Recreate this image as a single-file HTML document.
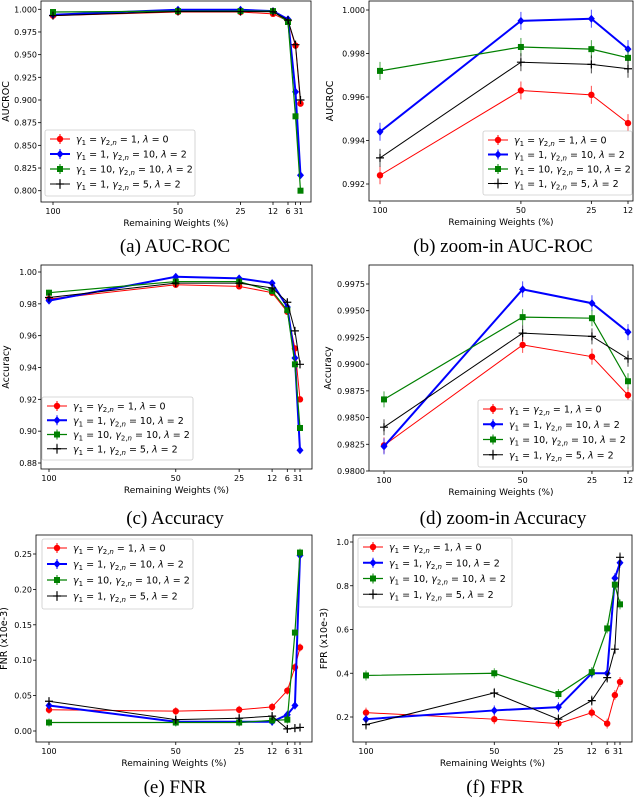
<!DOCTYPE html>
<html><head><meta charset="utf-8"><style>
body{margin:0;background:#fff;width:640px;height:800px;overflow:hidden}
svg{display:block}
text{font-family:"DejaVu Sans","Liberation Sans",sans-serif}
.cap{font-family:"Liberation Serif",serif;font-size:19px}
</style></head><body>
<svg id="fig" width="640" height="800" viewBox="0 0 640 800"></svg>
<script>
const xFull=[100,50,25,12,6,3,1];
const xZoom=[100,50,25,12];
const seriesNames=["γ1=γ2,n=1, λ=0","γ1=1, γ2,n=10, λ=2","γ1=10, γ2,n=10, λ=2","γ1=1, γ2,n=5, λ=2"];
// (a) AUC-ROC
const aRed=[.993,.997,.997,.995,.987,.960,.896];
const aBlue=[.994,.9995,.9995,.998,.989,.909,.817];
const aGreen=[.997,.998,.998,.998,.986,.882,.800];
const aBlack=[.993,.9976,.9975,.9973,.988,.961,.900];
const aTicks=[0.800,0.825,0.850,0.875,0.900,0.925,0.950,0.975,1.000];
// (b) zoom AUC-ROC
const bRed=[.9924,.9963,.9961,.9948];
const bBlue=[.9944,.9995,.9996,.9982];
const bGreen=[.9972,.9983,.9982,.9978];
const bBlack=[.9932,.9976,.9975,.9973];
const bTicks=[0.992,0.994,0.996,0.998,1.000];
// (c) Accuracy
const cRed=[.983,.992,.991,.987,.975,.952,.920];
const cBlue=[.982,.997,.996,.993,.978,.946,.888];
const cGreen=[.987,.994,.994,.988,.976,.942,.902];
const cBlack=[.984,.993,.993,.990,.981,.963,.942];
const cTicks=[0.88,0.90,0.92,0.94,0.96,0.98,1.00];
// (d) zoom Accuracy
const dRed=[.9824,.9918,.9907,.9871];
const dBlue=[.9823,.9970,.9957,.9930];
const dGreen=[.9867,.9944,.9943,.9884];
const dBlack=[.9841,.9929,.9926,.9905];
const dTicks=[0.9800,0.9825,0.9850,0.9875,0.9900,0.9925,0.9950,0.9975];
// (e) FNR
const eRed=[.030,.028,.030,.034,.057,.090,.118];
const eBlue=[.036,.013,.013,.013,.023,.036,.248];
const eGreen=[.012,.012,.012,.015,.016,.139,.252];
const eBlack=[.042,.016,.018,.021,.003,.004,.005];
const eTicks=[0.00,0.05,0.10,0.15,0.20,0.25];
// (f) FPR
const fRed=[.22,.19,.17,.22,.17,.30,.36];
const fBlue=[.19,.23,.245,.40,.40,.835,.905];
const fGreen=[.39,.40,.305,.405,.605,.805,.715];
const fBlack=[.165,.31,.19,.275,.38,.51,.93];
const fTicks=[0.2,0.4,0.6,0.8,1.0];

const NS="http://www.w3.org/2000/svg";
const svg=document.getElementById('fig');
function mk(tag,attrs,parent){const e=document.createElementNS(NS,tag);for(const k in attrs)e.setAttribute(k,attrs[k]);(parent||svg).appendChild(e);return e;}
const colors=["#ff0000","#0000ff","#008000","#000000"];
const widths=[1,2,1.2,1];
const markers=["circle","diamond","square","plus"];

function legendText(g,x,y,i){
  const t=mk('text',{x:x,y:y,'font-size':9.5},g);
  
  
  const parts=[
    [["γ","i"],["1","s"],[" = ",""],["γ","i"],["2,","s"],["n","si"],[" = 1, ",""],["λ","i"],[" = 0",""]],
    [["γ","i"],["1","s"],[" = 1, ",""],["γ","i"],["2,","s"],["n","si"],[" = 10, ",""],["λ","i"],[" = 2",""]],
    [["γ","i"],["1","s"],[" = 10, ",""],["γ","i"],["2,","s"],["n","si"],[" = 10, ",""],["λ","i"],[" = 2",""]],
    [["γ","i"],["1","s"],[" = 1, ",""],["γ","i"],["2,","s"],["n","si"],[" = 5, ",""],["λ","i"],[" = 2",""]]][i];
  let prevSub=false;
  parts.forEach(p=>{
    const ts=mk('tspan',{},t);ts.textContent=p[0];
    const sub=p[1].includes('s');
    if(p[1].includes('i'))ts.setAttribute('font-style','italic');
    if(sub){ts.setAttribute('font-size',7);if(!prevSub)ts.setAttribute('dy',2.5);}
    else if(prevSub)ts.setAttribute('dy',-2.5);
    prevSub=sub;
  });
}
function marker(g,m,x,y,c){
  let e;
  if(m==="circle")e=mk('circle',{cx:x,cy:y,r:3.2,fill:c},g);
  else if(m==="diamond")e=mk('path',{d:`M${x} ${y-4}L${x+3.5} ${y}L${x} ${y+4}L${x-3.5} ${y}Z`,fill:c},g);
  else if(m==="square")e=mk('rect',{x:x-3,y:y-3,width:6,height:6,fill:c},g);
  else e=mk('path',{d:`M${x-4} ${y}H${x+4}M${x} ${y-4}V${y+4}`,stroke:c,'stroke-width':1.2},g);
  
  
}
function panel(o){
  const g=mk('g',{});
  
  
  const X=v=>o.px0+(o.xs[0]-v)*(o.px1-o.px0)/(o.xs[0]-o.xs[o.xs.length-1]);
  const Y=v=>o.py0+(v-o.y0)*(o.py1-o.py0)/(o.y1-o.y0);
  const f=mk('rect',{x:o.L,y:o.T,width:o.R-o.L,height:o.B-o.T,fill:'none',stroke:'#000','stroke-width':0.8},g);
  
  
  o.yt.forEach(v=>{
    mk('line',{x1:o.L-3,x2:o.L,y1:Y(v),y2:Y(v),stroke:'#000','stroke-width':0.8},g);
    const t=mk('text',{x:o.L-4,y:Y(v)+3,'font-size':8,'text-anchor':'end'},g);
    t.textContent=v.toFixed(o.dec);
    
    
  });
  o.xs.forEach((v,i)=>{
    mk('line',{x1:X(v),x2:X(v),y1:o.B,y2:o.B+3,stroke:'#000','stroke-width':0.8},g);
    const t=mk('text',{x:X(v)+(v===3?0.5:v===1?0.5:0),y:o.B+12,'font-size':8,'text-anchor':'middle'},g);
    t.textContent=v;
    
    
  });
  const xl=mk('text',{x:(o.L+o.R)/2,y:o.B+24,'font-size':9,'text-anchor':'middle'},g);
  xl.textContent='Remaining Weights (%)';
  
  
  const yl=mk('text',{x:0,y:0,'font-size':9.5,'text-anchor':'middle',transform:`translate(${o.ylx},${(o.T+o.B)/2}) rotate(-90)`},g);
  yl.textContent=o.ylabel;
  
  
  o.series.forEach((s,i)=>{
    const pts=s.map((v,j)=>[X(o.xs[j]),Y(v)]);
    const pl=mk('polyline',{points:pts.map(p=>p.join(',')).join(' '),fill:'none',stroke:colors[i],'stroke-width':widths[i]},g);
    
    
    pts.forEach(p=>{
      mk('line',{x1:p[0],x2:p[0],y1:p[1]-o.err,y2:p[1]+o.err,stroke:colors[i],'stroke-width':1,opacity:0.7},g);
      marker(g,markers[i],p[0],p[1],colors[i]);
    });
  });
  const lg=mk('g',{},g);
  
  
  mk('rect',{x:o.lx,y:o.ly,width:o.lw,height:o.lh,fill:'#fff',stroke:'#ccc','stroke-width':0.8,rx:2},lg);
  for(let i=0;i<4;i++){
    const yy=o.ly+9+i*(o.lh-6)/4;
    mk('line',{x1:o.lx+5,x2:o.lx+25,y1:yy,y2:yy,stroke:colors[i],'stroke-width':widths[i]},lg);
    mk('line',{x1:o.lx+15,x2:o.lx+15,y1:yy-5,y2:yy+5,stroke:colors[i],'stroke-width':1},lg);
    marker(lg,markers[i],o.lx+15,yy,colors[i]);
    legendText(lg,o.lx+31,yy+3.5,i);
  }
  const c=mk('text',{x:o.cx,y:o.cy,'text-anchor':'middle',class:'cap'},g);
  c.textContent=o.cap;
  
  
}
panel({name:'panel-auc-roc',xs:xFull,L:41,R:311,T:1,B:202,px0:53,px1:300.5,py0:9.3,py1:190.7,y0:1,y1:0.8,yt:aTicks,dec:3,
  series:[aRed,aBlue,aGreen,aBlack],err:2,ylabel:'AUCROC',ylx:9,lx:45,ly:130,lw:150,lh:66,cx:175,cy:252,cap:'(a) AUC-ROC'});
panel({name:'panel-zoom-auc-roc',xs:xZoom,L:369,R:633,T:1,B:201,px0:380,px1:628,py0:10,py1:184,y0:1,y1:0.992,yt:bTicks,dec:3,
  series:[bRed,bBlue,bGreen,bBlack],err:9,ylabel:'AUCROC',ylx:333,lx:483,ly:131,lw:149,lh:64,cx:503,cy:252,cap:'(b) zoom-in AUC-ROC'});
panel({name:'panel-accuracy',xs:xFull,L:41,R:312,T:265,B:469,px0:49,px1:300,py0:272,py1:463,y0:1,y1:0.88,yt:cTicks,dec:2,
  series:[cRed,cBlue,cGreen,cBlack],err:3,ylabel:'Accuracy',ylx:9,lx:42,ly:397,lw:151,lh:63,cx:175,cy:524,cap:'(c) Accuracy'});
panel({name:'panel-zoom-accuracy',xs:xZoom,L:369,R:633,T:265,B:471,px0:384,px1:628,py0:284,py1:471,y0:0.9975,y1:0.98,yt:dTicks,dec:4,
  series:[dRed,dBlue,dGreen,dBlack],err:8,ylabel:'Accuracy',ylx:331,lx:478,ly:400,lw:154,lh:67,cx:503,cy:524,cap:'(d) zoom-in Accuracy'});
panel({name:'panel-fnr',xs:xFull,L:36,R:312,T:535,B:742,px0:49,px1:300,py0:554,py1:731,y0:0.25,y1:0,yt:eTicks,dec:2,
  series:[eRed,eBlue,eGreen,eBlack],err:4,ylabel:'FNR (x10e-3)',ylx:7,lx:42,ly:539,lw:151,lh:70,cx:175,cy:793,cap:'(e) FNR'});
panel({name:'panel-fpr',xs:xFull,L:353,R:632,T:535,B:742,px0:366,px1:620,py0:542,py1:717,y0:1,y1:0.2,yt:fTicks,dec:1,
  series:[fRed,fBlue,fGreen,fBlack],err:5,ylabel:'FPR (x10e-3)',ylx:327,lx:358,ly:538,lw:154,lh:69,cx:495,cy:793,cap:'(f) FPR'});
</script>
</body></html>
